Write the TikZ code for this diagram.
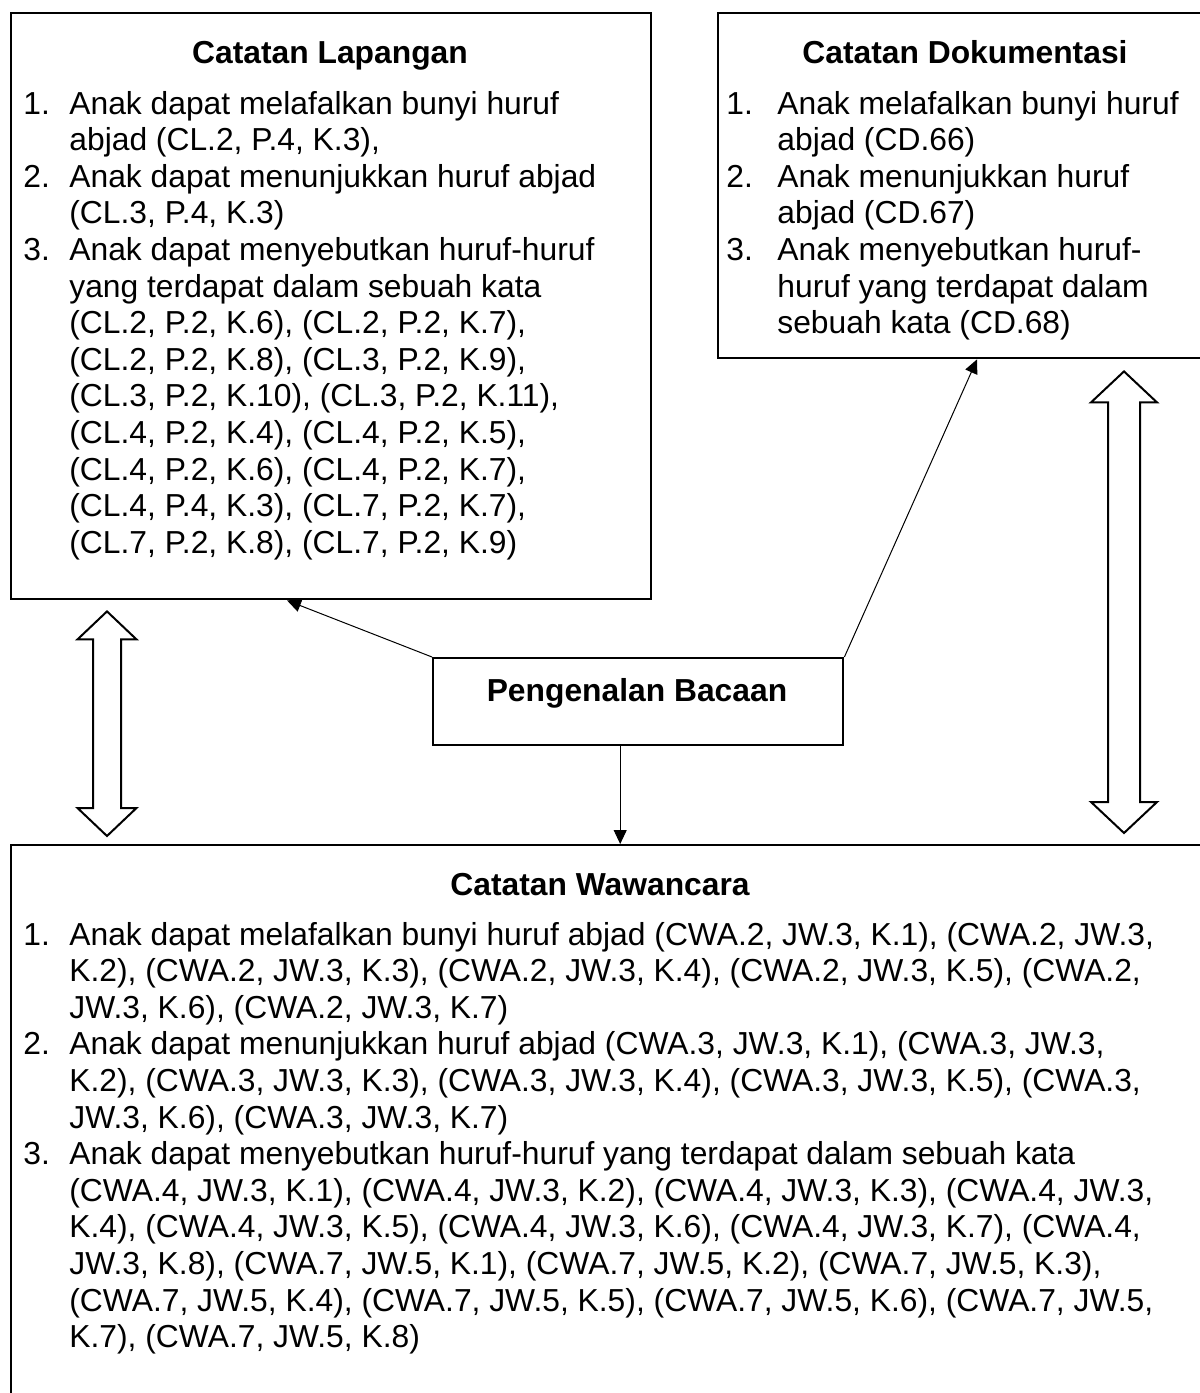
\documentclass[tikz,border=0pt]{standalone}
\usepackage{fontspec}
\setmainfont{Liberation Sans}
\usepackage{tikz}
\usetikzlibrary{arrows.meta,positioning,calc}
\newcommand{\bodyfont}{\fontsize{15.9pt}{18.3pt}\selectfont}

\begin{document}
\begin{tikzpicture}[x=0.5pt,y=-0.5pt,
    box/.style={draw=black,line width=1.2pt,inner sep=0pt,anchor=north west},
    heading/.style={font=\bodyfont\bfseries,anchor=base,inner sep=0pt},
    listtext/.style={font=\bodyfont,anchor=base west,inner sep=0pt},
    flow/.style={-{Triangle[length=7pt,width=6.5pt]},line width=0.5pt},
    hollow/.style={draw=black,fill=white,line width=1pt,line join=miter}
  ]
    \useasboundingbox (0,0) rectangle (1200,1393);
    \node[box,minimum width=320pt,minimum height=293pt] (lap) at (10,12) {};
    \node[box,minimum width=246.5pt,minimum height=172.5pt] (dok) at (717,12) {};
    \node[box,minimum width=600pt,minimum height=280pt] (wwc) at (10,844) {};
    \node[box,minimum width=205pt,minimum height=43.5pt] (bacaan) at (432,657) {};

    \node[heading] (lapTitle) at (330,63) {Catatan Lapangan};
    \node[listtext] (lapList) at (23,114) {\begin{tabular}[t]{@{}p{23pt}@{}l@{}}
      1. & Anak dapat melafalkan bunyi huruf\\
         & abjad (CL.2, P.4, K.3),\\
      2. & Anak dapat menunjukkan huruf abjad\\
         & (CL.3, P.4, K.3)\\
      3. & Anak dapat menyebutkan huruf-huruf\\
         & yang terdapat dalam sebuah kata\\
         & (CL.2, P.2, K.6), (CL.2, P.2, K.7),\\
         & (CL.2, P.2, K.8), (CL.3, P.2, K.9),\\
         & (CL.3, P.2, K.10), (CL.3, P.2, K.11),\\
         & (CL.4, P.2, K.4), (CL.4, P.2, K.5),\\
         & (CL.4, P.2, K.6), (CL.4, P.2, K.7),\\
         & (CL.4, P.4, K.3), (CL.7, P.2, K.7),\\
         & (CL.7, P.2, K.8), (CL.7, P.2, K.9)
    \end{tabular}};

    \node[heading] (dokTitle) at (965,63) {Catatan Dokumentasi};
    \node[listtext] (dokList) at (726,114) {\begin{tabular}[t]{@{}p{25.5pt}@{}l@{}}
      1. & Anak melafalkan bunyi huruf\\
         & abjad (CD.66)\\
      2. & Anak menunjukkan huruf\\
         & abjad (CD.67)\\
      3. & Anak menyebutkan huruf-\\
         & huruf yang terdapat dalam\\
         & sebuah kata (CD.68)
    \end{tabular}};

    \node[heading] (bacaanTitle) at (637,701) {Pengenalan Bacaan};

    \node[heading] (wwcTitle) at (600,895) {Catatan Wawancara};
    \node[listtext] (wwcList) at (23,945) {\begin{tabular}[t]{@{}p{23pt}@{}l@{}}
      1. & Anak dapat melafalkan bunyi huruf abjad (CWA.2, JW.3, K.1), (CWA.2, JW.3,\\
         & K.2), (CWA.2, JW.3, K.3), (CWA.2, JW.3, K.4), (CWA.2, JW.3, K.5), (CWA.2,\\
         & JW.3, K.6), (CWA.2, JW.3, K.7)\\
      2. & Anak dapat menunjukkan huruf abjad (CWA.3, JW.3, K.1), (CWA.3, JW.3,\\
         & K.2), (CWA.3, JW.3, K.3), (CWA.3, JW.3, K.4), (CWA.3, JW.3, K.5), (CWA.3,\\
         & JW.3, K.6), (CWA.3, JW.3, K.7)\\
      3. & Anak dapat menyebutkan huruf-huruf yang terdapat dalam sebuah kata\\
         & (CWA.4, JW.3, K.1), (CWA.4, JW.3, K.2), (CWA.4, JW.3, K.3), (CWA.4, JW.3,\\
         & K.4), (CWA.4, JW.3, K.5), (CWA.4, JW.3, K.6), (CWA.4, JW.3, K.7), (CWA.4,\\
         & JW.3, K.8), (CWA.7, JW.5, K.1), (CWA.7, JW.5, K.2), (CWA.7, JW.5, K.3),\\
         & (CWA.7, JW.5, K.4), (CWA.7, JW.5, K.5), (CWA.7, JW.5, K.6), (CWA.7, JW.5,\\
         & K.7), (CWA.7, JW.5, K.8)
    \end{tabular}};

    % panah dari pengenalan bacaan
    \draw[flow] (bacaan.north west) -- ([xshift=138.5pt]lap.south west);
    \draw[flow] (bacaan.north east) -- ([xshift=130pt]dok.south west);
    \draw[flow] ([xshift=-9pt]bacaan.south) -- ([xshift=-9pt]bacaan.south |- wwc.north);

    % panah dua arah
    \coordinate (lTop) at ($(lap.south west)+(97,11)$);
    \coordinate (lBot) at ($(wwc.north west)+(97,-8)$);
    \draw[hollow] (lTop) -- ++(29.5,28) -- ++(-15.5,0) -- ($(lBot)+(14,-28)$)
      -- ++(15.5,0) -- (lBot) -- ++(-29.5,-28) -- ++(15.5,0)
      -- ($(lTop)+(-14,28)$) -- ++(-15.5,0) -- cycle;
    \coordinate (rTop) at ($(dok.south west)+(407,12)$);
    \coordinate (rBot) at ($(wwc.north west)+(1114,-11)$);
    \draw[hollow] (rTop) -- ++(33,31) -- ++(-17,0) -- ($(rBot)+(16,-31)$)
      -- ++(17,0) -- (rBot) -- ++(-33,-31) -- ++(17,0)
      -- ($(rTop)+(-16,31)$) -- ++(-17,0) -- cycle;
  \end{tikzpicture}
\end{document}
